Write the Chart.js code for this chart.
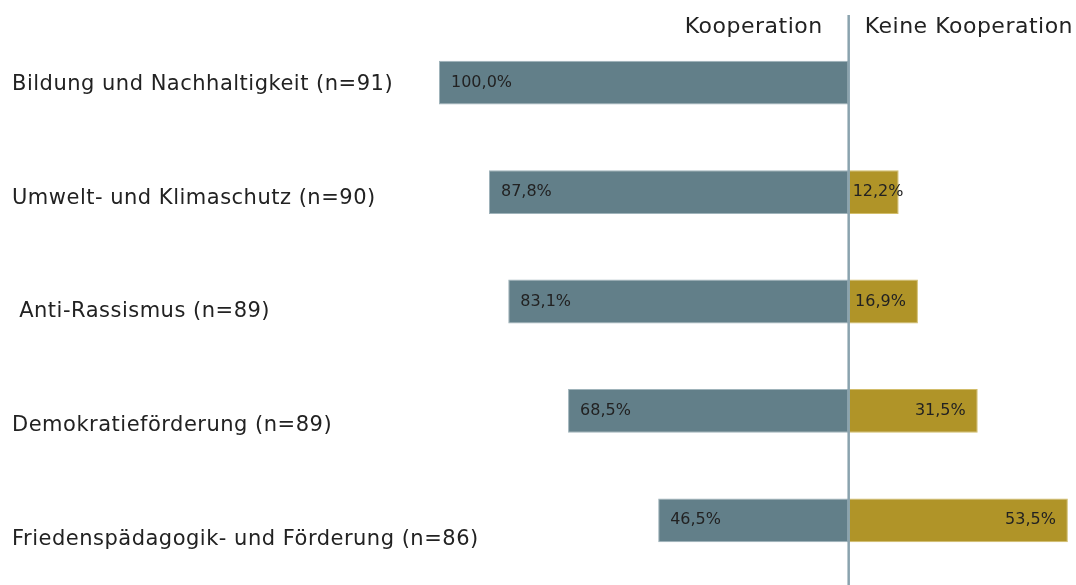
<!DOCTYPE html>
<html>
<head>
<meta charset="utf-8">
<script src="https://cdn.jsdelivr.net/npm/chart.js@4"></script>
<style>
  html, body { margin: 0; padding: 0; background: #fff; }
  #wrap { width: 1076px; height: 585px; }
</style>
</head>
<body>
<div id="wrap"><canvas id="chart"></canvas></div>
<script>
// Data
const categories = [
    'Bildung und Nachhaltigkeit (n=91)',
    'Umwelt- und Klimaschutz (n=90)',
    ' Anti-Rassismus (n=89)',
    'Demokratieförderung (n=89)',
    'Friedenspädagogik- und Förderung (n=86)'
];
const kooperation = [100.0, 87.8, 83.1, 68.5, 46.5];
const keineKooperation = [0, 12.2, 16.9, 31.5, 53.5];
const headers = ['Kooperation', 'Keine Kooperation'];

const blue = '#627f89';
const gold = '#b09428';
const FONT = '"DejaVu Sans", Verdana, sans-serif';

function fmt(v) {
    return v.toFixed(1).replace('.', ',') + '%';
}

// Category labels, headers, center line and value labels
const extras = {
    id: 'extras',
    afterDatasetsDraw(chart) {
        const ctx = chart.ctx;
        const x0 = chart.scales.x.getPixelForValue(0);
        const yScale = chart.scales.y;
        ctx.save();
        ctx.fillStyle = '#222';
        ctx.textBaseline = 'middle';

        // category labels (text boxes sit a bit lower further down)
        ctx.letterSpacing = '0.5px';
        ctx.font = '21px ' + FONT;
        ctx.textAlign = 'left';
        categories.forEach((c, i) => {
            ctx.fillText(c, 12, yScale.getPixelForValue(i) + 2 + 4.2 * i);
        });

        // value labels
        ctx.letterSpacing = '0px';
        ctx.font = '16px ' + FONT;
        chart.getDatasetMeta(0).data.forEach((bar, i) => {
            ctx.fillText(fmt(kooperation[i]), bar.x + 12, bar.y);
        });
        chart.getDatasetMeta(1).data.forEach((bar, i) => {
            if (!keineKooperation[i]) return;
            const txt = fmt(keineKooperation[i]);
            const w = ctx.measureText(txt).width;
            ctx.fillText(txt, Math.max(x0 + 4, bar.x - 12 - w), bar.y);
        });

        // center line
        ctx.strokeStyle = '#8aa3ae';
        ctx.lineWidth = 2.5;
        ctx.beginPath();
        ctx.moveTo(x0, 15);
        ctx.lineTo(x0, chart.height);
        ctx.stroke();

        // headers
        ctx.letterSpacing = '0.5px';
        ctx.font = '22px ' + FONT;
        ctx.textAlign = 'right';
        ctx.fillText(headers[0], x0 - 26, 27);
        ctx.textAlign = 'left';
        ctx.fillText(headers[1], x0 + 16, 27);
        ctx.restore();
    }
};

const ctx = document.getElementById('chart').getContext('2d');
new Chart(ctx, {
    type: 'bar',
    data: {
        labels: categories,
        datasets: [{
            label: headers[0],
            data: kooperation.map(v => -v),
            backgroundColor: blue,
            borderColor: '#9fb3ba',
            borderWidth: 1,
            borderSkipped: false
        }, {
            label: headers[1],
            data: keineKooperation,
            backgroundColor: gold,
            borderColor: '#d2bd6a',
            borderWidth: 1,
            borderSkipped: false
        }]
    },
    options: {
        indexAxis: 'y',
        responsive: true,
        maintainAspectRatio: false,
        animation: false,
        layout: { padding: { left: 439, right: 2, top: 28, bottom: 10 } },
        plugins: {
            legend: { display: false },
            tooltip: { enabled: false }
        },
        datasets: {
            bar: { categoryPercentage: 1, barPercentage: 0.4, grouped: false }
        },
        scales: {
            x: {
                min: -100,
                max: 55,
                display: false
            },
            y: {
                display: false
            }
        }
    },
    plugins: [extras]
});
</script>
</body>
</html>
